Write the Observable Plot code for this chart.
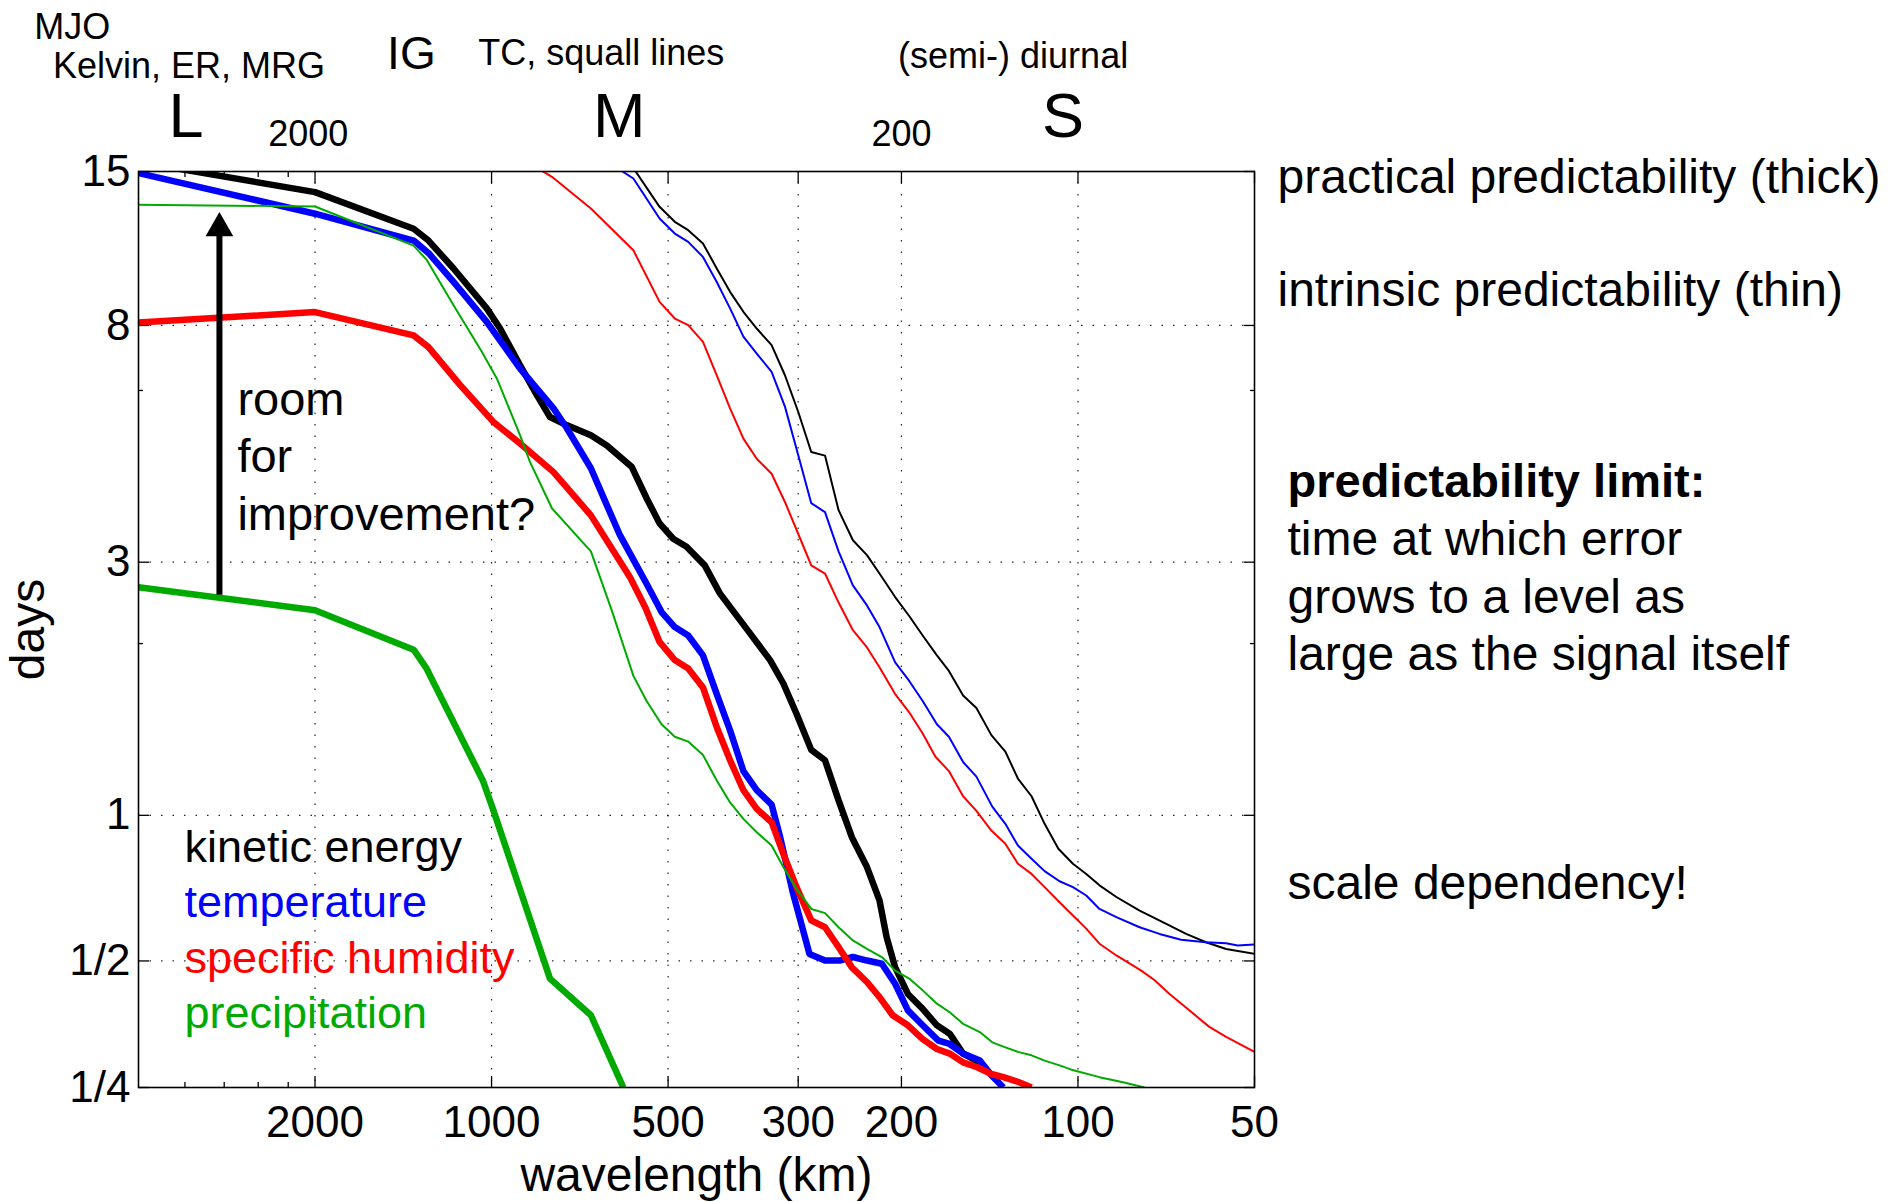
<!DOCTYPE html>
<html>
<head>
<meta charset="utf-8">
<script src="https://cdn.jsdelivr.net/npm/d3@7"></script>
<script src="https://cdn.jsdelivr.net/npm/@observablehq/plot@0.6"></script>
<style>
  html, body { margin: 0; padding: 0; background: #ffffff; }
  #chart svg { display: block; }
</style>
</head>
<body>
<div id="chart"></div>
<script>
// ---------------- data (wavelength in km, predictability limit in days) ----------------
const variableNames = ["kinetic energy", "temperature", "specific humidity", "precipitation"];
const variableColors = ["#000000", "#0000ff", "#ff0000", "#00aa00"];

// kinetic energy
const keThickWl   = [4000, 2000, 1358, 1281, 1161, 1019, 967, 894, 837, 795, 754, 677, 636, 577, 544, 517, 490, 465, 433, 408, 367, 335, 318, 302, 285, 270, 256, 243, 229, 218, 212, 205, 195, 184, 174, 165.5, 157, 149, 141.5];
const keThickDays = [15.6, 13.79, 11.88, 11.32, 10.10, 8.58, 7.90, 6.79, 6.01, 5.49, 5.34, 5.09, 4.88, 4.47, 3.92, 3.53, 3.31, 3.20, 2.96, 2.63, 2.26, 1.98, 1.79, 1.57, 1.34, 1.28, 1.07, 0.905, 0.788, 0.673, 0.563, 0.484, 0.422, 0.390, 0.357, 0.341, 0.305, 0.293, 0.273];
const keThinWl    = [585, 517, 487, 462, 436, 413, 392, 372, 353, 333, 316, 300, 285, 270, 256, 242, 229, 218, 205, 194, 184, 174, 166, 157, 149, 140.5, 133, 126.6, 120, 114, 108, 102, 96.8, 91.9, 86, 78.5, 70.7, 65.4, 60.5, 55.9, 50];
const keThinDays  = [15.7, 12.99, 12.22, 11.81, 11.19, 10.10, 9.18, 8.46, 7.90, 7.38, 6.52, 5.61, 4.75, 4.68, 3.73, 3.29, 3.09, 2.86, 2.59, 2.39, 2.20, 2.02, 1.89, 1.70, 1.61, 1.43, 1.33, 1.18, 1.09, 0.962, 0.858, 0.800, 0.763, 0.723, 0.684, 0.641, 0.601, 0.572, 0.549, 0.531, 0.518];

// temperature
const tThickWl    = [4000, 2000, 1358, 1280, 1161, 1019, 894, 784, 744, 677, 636, 604, 566, 544, 513, 487, 462, 436, 413, 392, 372, 353, 333, 322, 306, 287, 270, 255, 242, 229, 216, 205, 195, 184, 173, 165.5, 157, 147, 140.5, 134];
const tThickDays  = [14.9, 12.63, 11.32, 10.75, 9.56, 8.12, 6.70, 5.69, 5.24, 4.44, 3.81, 3.36, 2.96, 2.74, 2.43, 2.28, 2.20, 2.02, 1.71, 1.46, 1.22, 1.12, 1.05, 0.905, 0.695, 0.518, 0.501, 0.501, 0.510, 0.501, 0.493, 0.445, 0.387, 0.357, 0.328, 0.322, 0.305, 0.293, 0.269, 0.25];
const tThinWl     = [616, 573, 517, 487, 462, 436, 413, 392, 372, 353, 333, 316, 300, 285, 270, 256, 242, 229, 218, 205, 194, 184, 174, 166, 157, 149, 140, 133, 126.6, 120, 114, 107.5, 102, 96.8, 91.9, 86, 78.5, 72.6, 66.7, 60.5, 55.9, 53.4, 50];
const tThinDays   = [15.3, 14.58, 12.39, 11.65, 11.26, 10.59, 9.56, 8.58, 7.64, 7.13, 6.61, 5.73, 4.69, 3.84, 3.70, 3.14, 2.72, 2.50, 2.28, 1.96, 1.81, 1.66, 1.50, 1.42, 1.27, 1.19, 1.04, 0.962, 0.871, 0.819, 0.773, 0.737, 0.717, 0.689, 0.646, 0.621, 0.591, 0.572, 0.556, 0.549, 0.546, 0.540, 0.543];

// specific humidity
const qThickWl    = [4000, 2000, 1358, 1281, 1131, 993, 894, 784, 677, 581, 547, 517, 487, 462, 436, 413, 392, 372, 353, 333, 318, 302, 285, 270, 256, 243, 229, 218, 207, 195, 184, 174, 165.5, 157, 148.5, 140.5, 134, 126, 120];
const qThickDays  = [8.1, 8.45, 7.68, 7.32, 6.26, 5.38, 4.92, 4.37, 3.65, 2.82, 2.48, 2.14, 1.98, 1.91, 1.76, 1.48, 1.28, 1.12, 1.03, 0.969, 0.838, 0.717, 0.611, 0.591, 0.536, 0.484, 0.449, 0.415, 0.377, 0.357, 0.331, 0.313, 0.305, 0.290, 0.282, 0.271, 0.266, 0.258, 0.25];
const qThinWl     = [843, 789, 677, 573, 517, 487, 462, 436, 413, 392, 372, 353, 333, 316, 300, 285, 270, 256, 242, 229, 218, 205, 194, 184, 175, 166, 157, 149, 140.5, 133, 126.6, 120, 114, 107.5, 102, 96.8, 91.9, 86, 78, 74, 69.8, 64.6, 59.7, 55.9, 50];
const qThinDays   = [15.3, 14.68, 12.90, 10.88, 8.81, 8.23, 8.01, 7.48, 6.52, 5.69, 5.02, 4.62, 4.34, 3.86, 3.38, 2.96, 2.86, 2.53, 2.25, 2.09, 1.92, 1.71, 1.58, 1.44, 1.30, 1.22, 1.09, 1.02, 0.933, 0.878, 0.800, 0.763, 0.717, 0.667, 0.626, 0.587, 0.545, 0.514, 0.476, 0.453, 0.422, 0.387, 0.354, 0.335, 0.308];

// precipitation
const pThickWl    = [4000, 2000, 1358, 1291, 1035, 992, 795, 677, 596];
const pThickDays  = [2.70, 2.45, 2.07, 1.91, 1.17, 1.02, 0.457, 0.377, 0.25];
const pThinWl     = [4000, 2000, 1358, 1289, 1161, 1039, 979, 894, 860, 789, 677, 624, 573, 544, 513, 487, 462, 436, 413, 392, 372, 353, 333, 318, 302, 285, 270, 256, 242, 229, 216, 205, 194, 184, 174, 165.5, 157, 147, 140, 133, 126.6, 120, 114, 107.5, 102.6, 91.9, 83.8, 77];
const pThinDays   = [13.10, 13.01, 11.09, 10.45, 8.69, 7.18, 6.43, 5.09, 4.56, 3.76, 3.14, 2.45, 1.85, 1.66, 1.50, 1.42, 1.39, 1.31, 1.17, 1.06, 0.984, 0.926, 0.871, 0.788, 0.711, 0.646, 0.633, 0.591, 0.554, 0.531, 0.510, 0.476, 0.457, 0.430, 0.401, 0.383, 0.360, 0.344, 0.325, 0.316, 0.308, 0.302, 0.293, 0.285, 0.278, 0.266, 0.258, 0.25];

// axes
const xTickValues = [2000, 1000, 500, 300, 200, 100, 50];
const xMinorTicks = [3333, 2857, 2500, 2222];   // wavenumbers 12..18
const xGridValues = [2000, 1000, 500, 300, 200, 100];
const yTickValues = [0.25, 0.5, 1, 3, 8, 15];
const yTickLabels = ["1/4", "1/2", "1", "3", "8", "15"];
const yMinorTicks = [2.125, 6.125];
const yGridValues = [0.5, 1, 3, 8];

// texts
const topPhenomena = ["MJO", "Kelvin, ER, MRG", "IG", "TC, squall lines", "(semi-) diurnal"];
const scaleLetters = ["L", "M", "S"];
const topNumbers = ["2000", "200"];
const rightNotes = ["practical predictability (thick)", "intrinsic predictability (thin)"];
const limitTitle = "predictability limit:";
const limitBody = "time at which error\ngrows to a level as\nlarge as the signal itself";
const scaleNote = "scale dependency!";
const roomText = "room\nfor\nimprovement?";

// ---------------- build ----------------
const series = [
  {v: 0, thick: true,  wl: keThickWl, d: keThickDays},
  {v: 0, thick: false, wl: keThinWl,  d: keThinDays},
  {v: 1, thick: true,  wl: tThickWl,  d: tThickDays},
  {v: 1, thick: false, wl: tThinWl,   d: tThinDays},
  {v: 2, thick: true,  wl: qThickWl,  d: qThickDays},
  {v: 2, thick: false, wl: qThinWl,   d: qThinDays},
  {v: 3, thick: true,  wl: pThickWl,  d: pThickDays},
  {v: 3, thick: false, wl: pThinWl,   d: pThinDays}
];

const W = 1889, H = 1202;
const FONT = "'Liberation Sans', Arial, Helvetica, sans-serif";

const lineMarks = series.map(s => Plot.line(
  s.wl.map((w, i) => ({wl: w, days: s.d[i]})),
  {x: "wl", y: "days", stroke: variableColors[s.v], strokeWidth: s.thick ? 6.5 : 2,
   strokeLinejoin: "round", strokeLinecap: "butt", clip: true}
));

const txt = (t, opts) => Plot.text([t], {text: d => d, ...opts});

const topPhenX = [5190, 3280, 1370, 650, 129];
const topPhenDy = [-144, -105, -117, -118, -115];
const topPhenSize = [36, 36, 46, 36, 36];
const letterX = [3320, 606, 106];
const numberX = [2054, 200];

const marks = [
  Plot.gridX(xGridValues, {stroke: "#000", strokeOpacity: 0.85, strokeWidth: 1.2, strokeDasharray: "1.5,10"}),
  Plot.gridY(yGridValues, {stroke: "#000", strokeOpacity: 0.85, strokeWidth: 1.2, strokeDasharray: "1.5,10"}),
  // inward ticks
  Plot.axisX({anchor: "bottom", ticks: xTickValues, tickSize: -11, tickFormat: () => "", label: null, strokeWidth: 1.3}),
  Plot.axisX({anchor: "top", ticks: xTickValues, tickSize: -11, tickFormat: () => "", label: null, strokeWidth: 1.3}),
  Plot.axisX({anchor: "bottom", ticks: xMinorTicks, tickSize: -5, tickFormat: () => "", label: null, strokeWidth: 1.3}),
  Plot.axisX({anchor: "top", ticks: xMinorTicks, tickSize: -5, tickFormat: () => "", label: null, strokeWidth: 1.3}),
  Plot.axisY({anchor: "left", ticks: yTickValues, tickSize: -11, tickFormat: () => "", label: null, strokeWidth: 1.3}),
  Plot.axisY({anchor: "right", ticks: yTickValues, tickSize: -11, tickFormat: () => "", label: null, strokeWidth: 1.3}),
  Plot.axisY({anchor: "left", ticks: yMinorTicks, tickSize: -5, tickFormat: () => "", label: null, strokeWidth: 1.3}),
  Plot.axisY({anchor: "right", ticks: yMinorTicks, tickSize: -5, tickFormat: () => "", label: null, strokeWidth: 1.3}),
  // tick labels
  Plot.axisX({anchor: "bottom", ticks: xTickValues, tickSize: 0, tickPadding: 18, tickFormat: d => String(d),
              label: null, fontSize: 44, fill: "#000"}),
  Plot.axisY({anchor: "left", ticks: yTickValues, tickSize: 0, tickPadding: 8,
              tickFormat: d => yTickLabels[yTickValues.indexOf(d)], label: null, fontSize: 44, fill: "#000"}),
  ...lineMarks,
  Plot.frame({stroke: "#000", strokeWidth: 1.6}),
  // arrow "room for improvement?"
  Plot.ruleX([2911], {y1: 2.61, y2: 11.55, stroke: "#000", strokeWidth: 6}),
  Plot.dot([2911], {x: d => d, y: 11.91, symbol: "triangle", r: 10.3, fill: "#000", stroke: "none"}),
  txt(roomText, {x: 2713, y: 4.71, textAnchor: "start", lineAnchor: "middle", lineHeight: 1.22, fontSize: 47, fill: "#000"}),
  // legend inside the axes
  ...variableNames.map((n, i) => txt(n, {x: 3340, y: [0.863, 0.666, 0.506, 0.381][i], textAnchor: "start",
                                         lineAnchor: "middle", fontSize: 45, fill: variableColors[i]})),
  // axis titles
  txt("wavelength (km)", {frameAnchor: "bottom", dy: 88, textAnchor: "middle", lineAnchor: "middle", fontSize: 48, fill: "#000"}),
  txt("days", {frameAnchor: "left", dx: -110, textAnchor: "middle", lineAnchor: "middle", rotate: -90, fontSize: 48, fill: "#000"}),
  // labels above the axes
  ...topPhenomena.map((t, i) => txt(t, {x: topPhenX[i], frameAnchor: "top", dy: topPhenDy[i], textAnchor: "middle",
                                        lineAnchor: "middle", fontSize: topPhenSize[i], fill: "#000"})),
  ...scaleLetters.map((t, i) => txt(t, {x: letterX[i], frameAnchor: "top", dy: -55, textAnchor: "middle",
                                        lineAnchor: "middle", fontSize: 63, fill: "#000"})),
  ...topNumbers.map((t, i) => txt(t, {x: numberX[i], frameAnchor: "top", dy: -37, textAnchor: "middle",
                                      lineAnchor: "middle", fontSize: 36, fill: "#000"})),
  // notes on the right
  txt(rightNotes[0], {y: 14.64, frameAnchor: "right", dx: 23, textAnchor: "start", lineAnchor: "middle", fontSize: 48, fill: "#000"}),
  txt(rightNotes[1], {y: 9.23, frameAnchor: "right", dx: 23, textAnchor: "start", lineAnchor: "middle", fontSize: 48, fill: "#000"}),
  txt(limitTitle, {y: 4.20, frameAnchor: "right", dx: 33, textAnchor: "start", lineAnchor: "middle", fontSize: 47, fontWeight: "bold", fill: "#000"}),
  txt(limitBody, {y: 2.62, frameAnchor: "right", dx: 33, textAnchor: "start", lineAnchor: "middle", lineHeight: 1.2, fontSize: 48, fill: "#000"}),
  txt(scaleNote, {y: 0.729, frameAnchor: "right", dx: 33, textAnchor: "start", lineAnchor: "middle", fontSize: 48, fill: "#000"})
];

const chart = Plot.plot({
  width: W,
  height: H,
  marginLeft: 138,
  marginRight: W - 1254,
  marginTop: 171,
  marginBottom: H - 1087,
  style: {fontFamily: FONT, background: "#ffffff", color: "#000"},
  x: {type: "log", domain: [4000, 50]},
  y: {type: "symlog", constant: 0.125, domain: [0.25, 15]},
  marks
});
document.getElementById("chart").appendChild(chart);
</script>
</body>
</html>
